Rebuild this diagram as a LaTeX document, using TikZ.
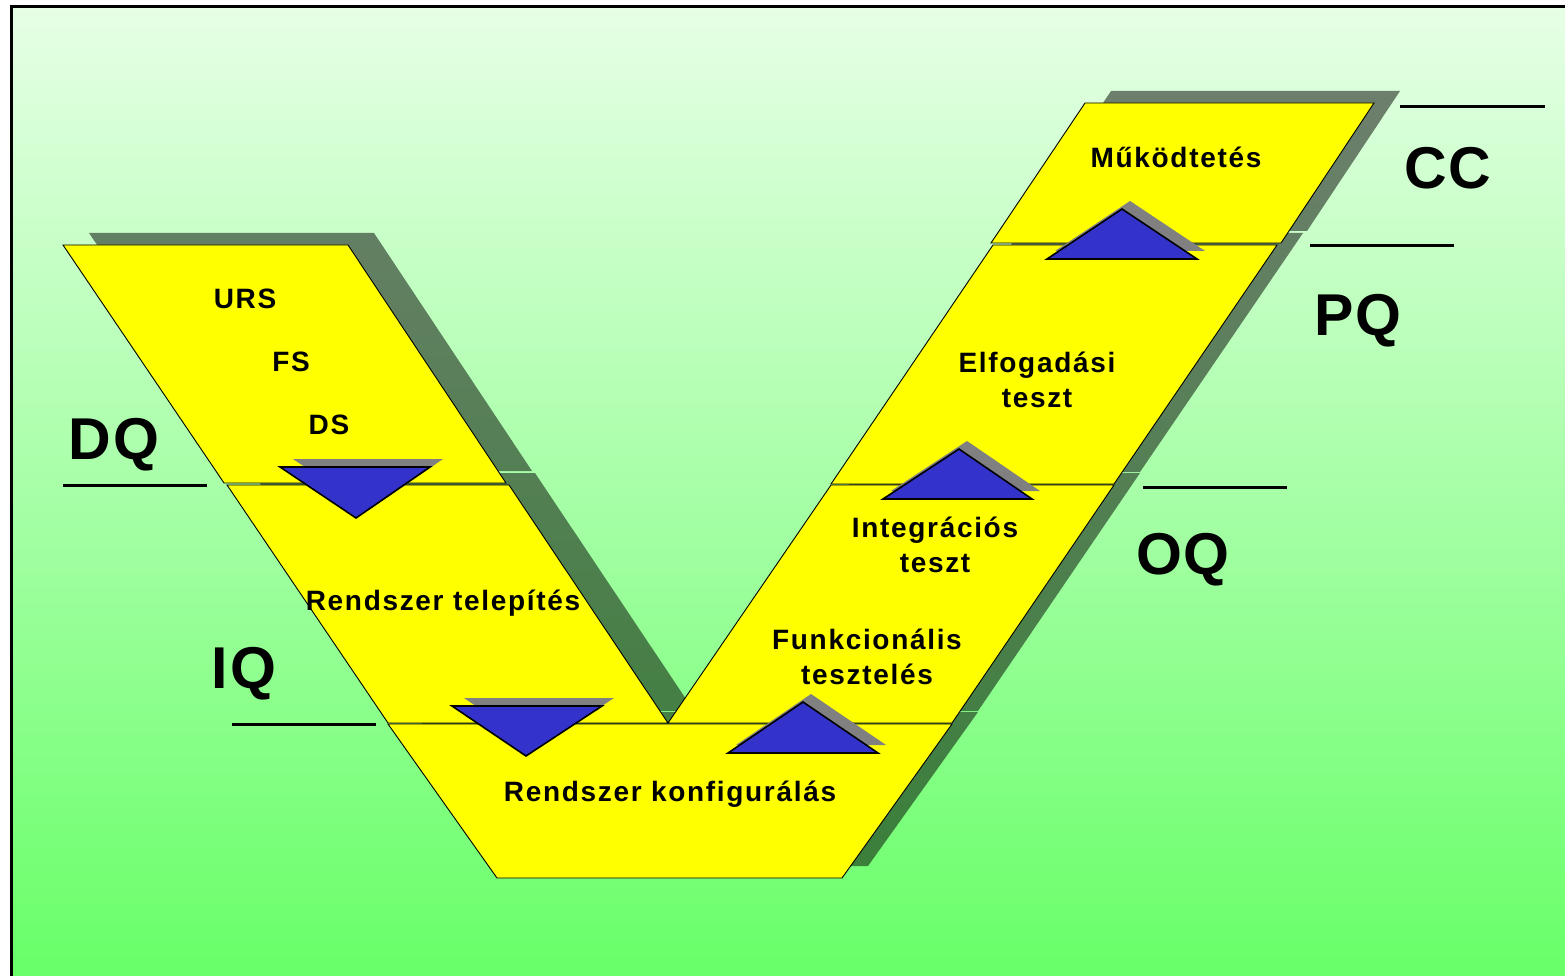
\documentclass[tikz,border=0pt]{standalone}
\usepackage{fontspec}
\setmainfont{Liberation Sans}
\newfontfamily\stagefont{Liberation Sans}[LetterSpace=6]
\newfontfamily\phasefont{Liberation Sans}[LetterSpace=3]
\definecolor{bgtop}{HTML}{E6FFE6}
\definecolor{bgbot}{HTML}{66FF66}
\definecolor{vyellow}{HTML}{FFFF00}
\definecolor{triblue}{HTML}{3333CC}
\definecolor{trishadow}{HTML}{808080}
\tikzset{
  piece/.style={fill=vyellow, draw=black, line width=0.9pt, line join=miter},
  pshadow/.style={fill=black, fill opacity=0.5},
  tri/.style={fill=triblue, draw=black, line width=1.6pt, line join=miter},
  trishad/.style={fill=trishadow},
  stagelbl/.style={font=\stagefont\bfseries\fontsize{28}{35.5}\selectfont, align=center, inner sep=0pt},
  phaselbl/.style={font=\phasefont\bfseries\fontsize{59}{60}\selectfont, inner sep=0pt},
  phaseline/.style={line width=3pt}
}
\begin{document}
\begin{tikzpicture}[x=1pt,y=-1pt]
\useasboundingbox (0,0) rectangle (1565,976);
% background and frame
\fill[white] (0,0) rectangle (1565,976);
\shade[top color=bgtop, bottom color=bgbot] (11,7) rectangle (1580,990);
\draw[line width=3pt] (11,990) -- (11,7) -- (1580,7);

% shadows of the V pieces
\begin{scope}[shift={(26,-12)}]
  \fill[pshadow]
    (63,245) -- (348,245) -- (506,483) -- (224,483) -- cycle
    (227,485) -- (509,485) -- (668,723) -- (388,723) -- cycle
    (388,724) -- (952,724) -- (842,878) -- (497,878) -- cycle
    (668,723) -- (952,723) -- (1114,485) -- (831,485) -- cycle
    (831,484) -- (1114,484) -- (1277,245) -- (993,245) -- cycle
    (991,243) -- (1281,243) -- (1374,103) -- (1085,103) -- cycle;
\end{scope}

% V pieces
\draw[piece] (63,245) -- (348,245) -- (506,483) -- (224,483) -- cycle;
\draw[piece] (227,485) -- (509,485) -- (668,723) -- (388,723) -- cycle;
\draw[piece] (388,724) -- (952,724) -- (842,878) -- (497,878) -- cycle;
\draw[piece] (668,723) -- (952,723) -- (1114,485) -- (831,485) -- cycle;
\draw[piece] (831,484) -- (1114,484) -- (1277,245) -- (993,245) -- cycle;
\draw[piece] (991,243) -- (1281,243) -- (1374,103) -- (1085,103) -- cycle;

% triangle shadows
\fill[trishad] (293,459) -- (443,459) -- (369,510) -- cycle;
\fill[trishad] (464,698) -- (614,698) -- (538,748) -- cycle;
\fill[trishad] (736,745) -- (886,745) -- (811,694) -- cycle;
\fill[trishad] (891,491) -- (1040,491) -- (967,441) -- cycle;
\fill[trishad] (1055,251) -- (1205,251) -- (1130,201) -- cycle;

% triangles
\draw[tri] (280,467) -- (430,467) -- (356,518) -- cycle;
\draw[tri] (452,706) -- (602,706) -- (526,756) -- cycle;
\draw[tri] (728,753) -- (878,753) -- (803,702) -- cycle;
\draw[tri] (883,499) -- (1032,499) -- (959,449) -- cycle;
\draw[tri] (1047,259) -- (1197,259) -- (1122,209) -- cycle;

% stage labels
\node[stagelbl] (urs) at (245,299) {URS};
\node[stagelbl] (fs) at (291,362) {FS};
\node[stagelbl] (ds) at (329,425) {DS};
\node[stagelbl] (telep) at (443,603) {Rendszer telepítés};
\node[stagelbl] (konf) at (670,794) {Rendszer konfigurálás};
\node[stagelbl] (funk) at (867,657) {Funkcionális\\tesztelés};
\node[stagelbl] (integr) at (935,545) {Integrációs\\teszt};
\node[stagelbl] (elfog) at (1037,380) {Elfogadási\\teszt};
\node[stagelbl] (mukod) at (1176,157) {Működtetés};

% phase labels and lines
\node[phaselbl] (dq) at (114,445) {DQ};
\node[phaselbl] (iq) at (244,674) {IQ};
\node[phaselbl] (oq) at (1183,560) {OQ};
\node[phaselbl] (pq) at (1358,321) {PQ};
\node[phaselbl] (cc) at (1448,168) {CC};
\coordinate (dqa) at (63,485);  \coordinate (dqb) at (207,485);
\coordinate (iqa) at (232,724); \coordinate (iqb) at (376,724);
\coordinate (oqa) at (1143,487); \coordinate (oqb) at (1287,487);
\coordinate (pqa) at (1310,246); \coordinate (pqb) at (1454,246);
\coordinate (cca) at (1400,107); \coordinate (ccb) at (1545,107);
\draw[phaseline] (dqa) -- (dqb);
\draw[phaseline] (iqa) -- (iqb);
\draw[phaseline] (oqa) -- (oqb);
\draw[phaseline] (pqa) -- (pqb);
\draw[phaseline] (cca) -- (ccb);
\end{tikzpicture}
\end{document}
